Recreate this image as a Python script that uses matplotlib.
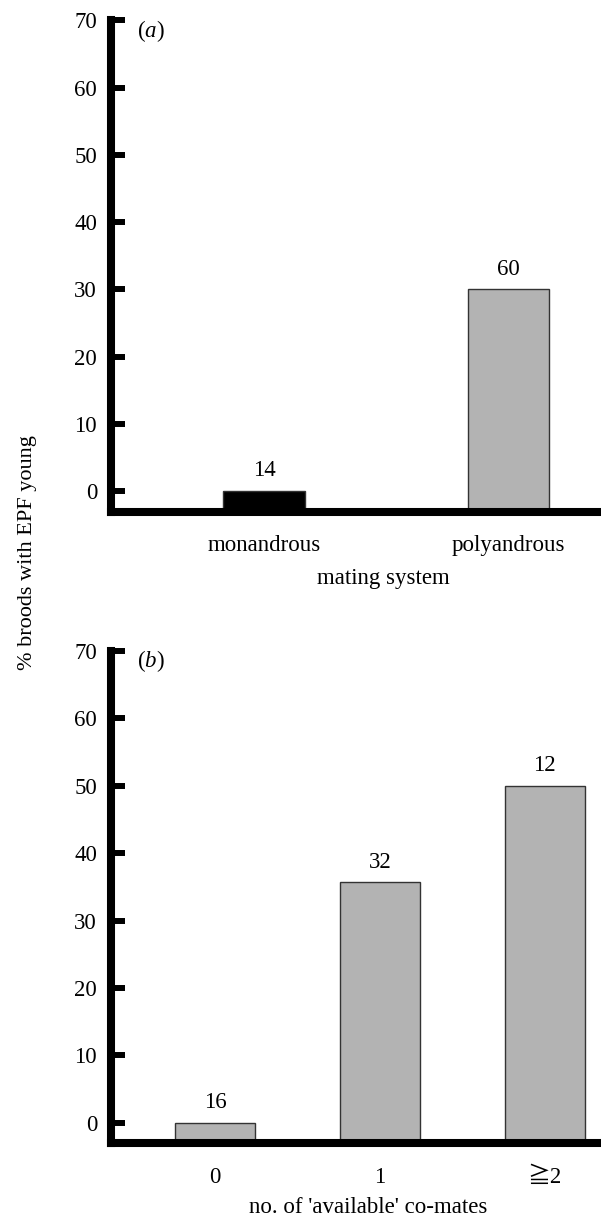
import matplotlib
matplotlib.use("Agg")
import matplotlib.pyplot as plt

plt.rcParams['font.family'] = ['Liberation Serif', 'Noto Sans CJK JP', 'DejaVu Sans']
plt.rcParams['mathtext.fontset'] = 'custom'
plt.rcParams['mathtext.rm'] = 'Liberation Serif'
plt.rcParams['mathtext.it'] = 'Liberation Serif:italic'

# ---- data ----
cats_a = ['monandrous', 'polyandrous']
vals_a = [0, 30]
n_a = ['14', '60']
colors_a = ['black', '#b3b3b3']

cats_b = ['0', '1', '≧2']
vals_b = [0, 35.7, 50]
n_b = ['16', '32', '12']
colors_b = ['#b3b3b3', '#b3b3b3', '#b3b3b3']

yticks = [0, 10, 20, 30, 40, 50, 60, 70]
ylabel = '% broods with EPF young'
xlabel_a = 'mating system'
xlabel_b = "no. of 'available' co-mates"

YMIN, YMAX = -3.05, 70
FS = 16.5

fig = plt.figure(figsize=(6.01, 12.17), dpi=100)
ax_a = fig.add_axes([0.1847, 0.5797, 0.8153, 0.4035])
ax_b = fig.add_axes([0.1847, 0.0604, 0.8153, 0.4049])


def draw(ax, cats, vals, ns, colors, width, xlim, xlabel, xlab_x, xlab_y, panel):
    xs = list(range(len(cats)))
    ax.bar(xs, [v - YMIN for v in vals], bottom=YMIN, width=width,
           color=colors, edgecolor='#333333', linewidth=1.0, zorder=2)
    for x, v, n in zip(xs, vals, ns):
        ax.annotate(n, (x, v), xytext=(0, 10.5), textcoords='offset points',
                    ha='center', va='baseline', fontsize=FS)
    ax.set_xlim(*xlim)
    ax.set_ylim(YMIN, YMAX)
    ax.set_yticks(yticks)
    ax.set_yticklabels([str(t) for t in yticks], fontsize=FS)
    ax.set_xticks(xs)
    ax.set_xticklabels(cats, fontsize=FS)
    for s in ['top', 'right']:
        ax.spines[s].set_visible(False)
    for s in ['left', 'bottom']:
        ax.spines[s].set_linewidth(5.8)
        ax.spines[s].set_zorder(3)
    ax.tick_params(axis='y', direction='in', length=10, width=4.3, pad=10)
    ax.tick_params(axis='x', length=0, pad=17)
    ax.set_xlabel(xlabel, fontsize=FS)
    ax.xaxis.set_label_coords(xlab_x, xlab_y)
    ax.text(0.053, 0.979, r'($\mathit{%s}$)' % panel, transform=ax.transAxes,
            ha='left', va='center', fontsize=FS)


draw(ax_a, cats_a, vals_a, n_a, colors_a, 0.333, (-0.626, 1.378), xlabel_a, 0.555, -0.115, 'a')
draw(ax_b, cats_b, vals_b, n_b, colors_b, 0.485, (-0.631, 2.342), xlabel_b, 0.524, -0.108, 'b')

fig.text(27.5 / 601, 1 - 553 / 1217, ylabel, rotation=90, ha='center', va='center',
         fontsize=16)

fig.savefig('out.png', dpi=100)
